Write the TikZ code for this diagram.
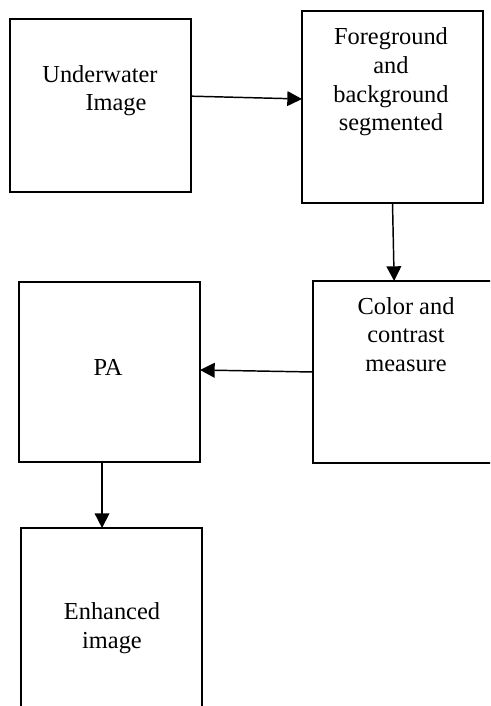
\documentclass[tikz,border=0pt]{standalone}
\usepackage{fontspec}
\setmainfont{Liberation Serif}
\usetikzlibrary{arrows.meta,positioning}
\tikzset{
  box/.style={draw, line width=1.2pt, minimum width=135.75pt, inner sep=0pt, outer sep=0pt},
  txt/.style={anchor=north, align=center, inner sep=0pt, font=\fontsize{18.3}{21.5}\selectfont},
  arr/.style={-{Triangle[length=11pt,width=11pt]}, line width=1.1pt}
}
\begin{document}
\begin{tikzpicture}[x=0.75pt,y=-0.75pt]
  \useasboundingbox (0,0) rectangle (490,706);
  \clip (0,0) rectangle (490,706);
  % boxes
  \node[box, minimum height=129.75pt] (uw) at (100.5,105.5) {};
  \node[box, minimum height=144pt] (fg) at (392.5,107) {};
  \node[box, minimum height=136.5pt] (cc) at (403.5,372) {};
  \node[box, minimum height=135pt] (pa) at (109.5,372) {};
  \node[box, minimum height=136.5pt] (eh) at (111.5,619) {};
  % labels
  \node[txt] (uwtext) at (100,65) {Underwater\\\hspace*{24pt}Image};
  \node[txt] (fgtext) at (391,27.5) {Foreground\\and\\background\\segmented};
  \node[txt] (cctext) at (406,297) {Color and\\contrast\\measure};
  \node[txt] (patext) at (108,359) {PA};
  \node[txt] (ehtext) at (112,602.5) {Enhanced\\image};
  % arrows
  \draw[arr] ([yshift=7pt]uw.east) -- ([yshift=6pt]fg.west);
  \draw[arr] (fg.south) -- ([xshift=-7pt]cc.north);
  \draw[arr] (cc.west) -- ([yshift=1.5pt]pa.east);
  \draw[arr] ([xshift=-5.6pt]pa.south) -- ([xshift=-7.1pt]eh.north);
\end{tikzpicture}
\end{document}
